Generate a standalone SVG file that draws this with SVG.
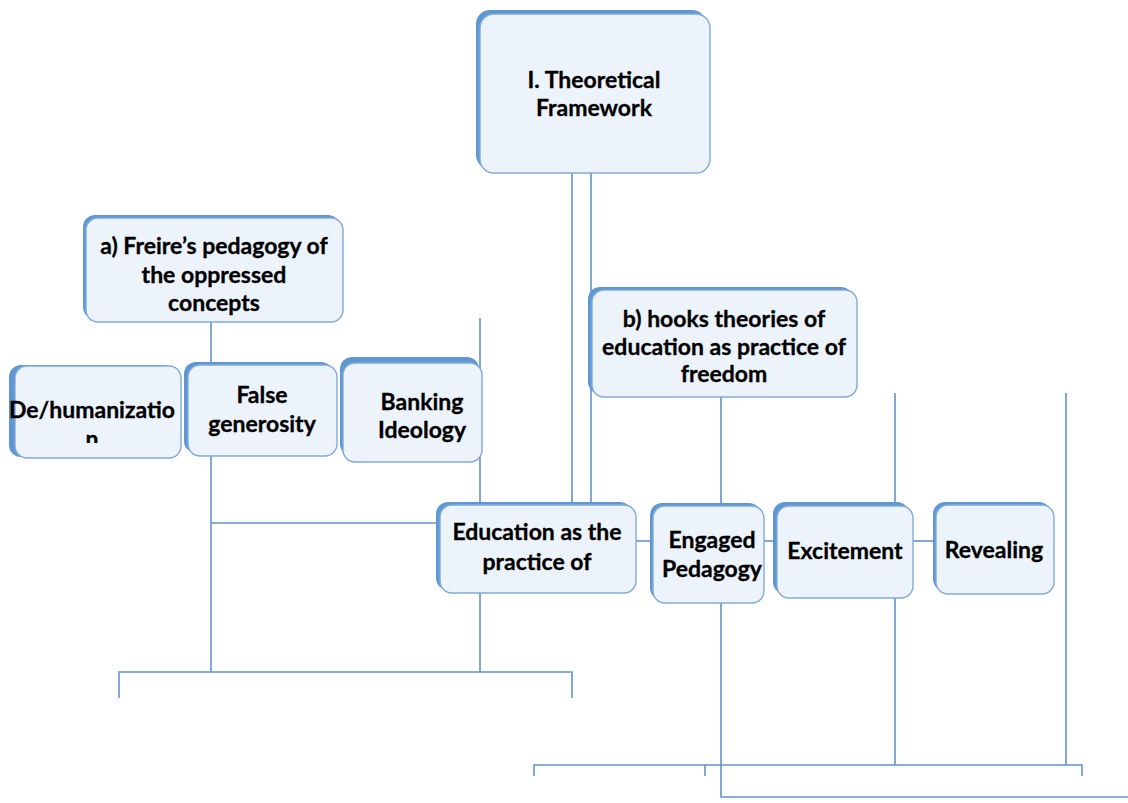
<svg xmlns="http://www.w3.org/2000/svg" width="1128" height="803" viewBox="0 0 1128 803">
<style>
.sh{fill:#5f97d3;}
.bx{fill:#edf3fb;stroke:#80aadb;stroke-width:1.4;}
.t{font-family:Lato,"Liberation Sans",sans-serif;font-weight:bold;font-size:23px;fill:#000;stroke:#000;stroke-width:0.3;text-anchor:middle;}
.c{stroke:#6192cb;stroke-width:1.6;fill:none;}
</style>
<defs>
<clipPath id="clipDe"><rect x="0" y="360" width="200" height="83"/></clipPath>
</defs>
<rect width="1128" height="803" fill="#fff"/>
<g id="connectors">
<line class="c" x1="572" y1="173" x2="572" y2="505"/>
<line class="c" x1="591" y1="173" x2="591" y2="505"/>
<line class="c" x1="211" y1="322" x2="211" y2="365"/>
<line class="c" x1="211" y1="456" x2="211" y2="672"/>
<line class="c" x1="211" y1="523" x2="440" y2="523"/>
<line class="c" x1="480" y1="318" x2="480" y2="505"/>
<line class="c" x1="480" y1="593" x2="480" y2="672"/>
<polyline class="c" points="119,698 119,672 572,672 572,698"/>
<line class="c" x1="721" y1="397" x2="721" y2="506"/>
<polyline class="c" points="721,603 721,797 1128,797"/>
<line class="c" x1="636" y1="541" x2="653" y2="541"/>
<line class="c" x1="764" y1="541" x2="777" y2="541"/>
<line class="c" x1="913" y1="541" x2="936" y2="541"/>
<line class="c" x1="895" y1="393" x2="895" y2="506"/>
<line class="c" x1="895" y1="598" x2="895" y2="765"/>
<line class="c" x1="1066" y1="393" x2="1066" y2="765"/>
<polyline class="c" points="534,776 534,765 1082,765 1082,776"/>
<line class="c" x1="705" y1="765" x2="705" y2="776"/>
</g>
<g id="theoretical">
<rect class="sh" x="476" y="10" width="230" height="159" rx="14"/>
<rect class="bx" x="480" y="14" width="230" height="159" rx="14"/>
<text class="t" x="594" y="88">I. Theoretical</text>
<text class="t" x="594" y="116">Framework</text>
</g>
<g id="freire">
<rect class="sh" x="83" y="215" width="257" height="104" rx="12"/>
<rect class="bx" x="86" y="218" width="257" height="104" rx="12"/>
<text class="t" x="214" y="254">a) Freire’s pedagogy of</text>
<text class="t" x="214" y="283">the oppressed</text>
<text class="t" x="214" y="311">concepts</text>
</g>
<g id="dehumanization">
<rect class="sh" x="9" y="365" width="166" height="92" rx="12"/>
<rect class="bx" x="15" y="366" width="166" height="92" rx="12"/>
<g clip-path="url(#clipDe)">
<text class="t" x="92" y="418">De/humanizatio</text>
<text class="t" x="92" y="447">n</text>
</g>
</g>
<g id="false-generosity">
<rect class="sh" x="184" y="362" width="149" height="91" rx="12"/>
<rect class="bx" x="188" y="365" width="149" height="91" rx="12"/>
<text class="t" x="262" y="403">False</text>
<text class="t" x="262" y="432">generosity</text>
</g>
<g id="banking">
<rect class="sh" x="340" y="357" width="139" height="99" rx="12"/>
<rect class="bx" x="343" y="363" width="139" height="99" rx="12"/>
<text class="t" x="422" y="410">Banking</text>
<text class="t" x="422" y="438">Ideology</text>
</g>
<g id="hooks">
<rect class="sh" x="588" y="287" width="265" height="107" rx="12"/>
<rect class="bx" x="592" y="290" width="265" height="107" rx="12"/>
<text class="t" x="724" y="327">b) hooks theories of</text>
<text class="t" x="724" y="355">education as practice of</text>
<text class="t" x="724" y="382">freedom</text>
</g>
<g id="education">
<rect class="sh" x="436" y="502" width="196" height="88" rx="12"/>
<rect class="bx" x="440" y="505" width="196" height="88" rx="12"/>
<text class="t" x="537" y="540">Education as the</text>
<text class="t" x="537" y="570">practice of</text>
</g>
<g id="engaged">
<rect class="sh" x="650" y="503" width="111" height="97" rx="12"/>
<rect class="bx" x="653" y="506" width="111" height="97" rx="12"/>
<text class="t" x="712" y="548">Engaged</text>
<text class="t" x="712" y="577">Pedagogy</text>
</g>
<g id="excitement">
<rect class="sh" x="773" y="502" width="136" height="92" rx="12"/>
<rect class="bx" x="777" y="506" width="136" height="92" rx="12"/>
<text class="t" x="845" y="559">Excitement</text>
</g>
<g id="revealing">
<rect class="sh" x="933" y="502" width="118" height="89" rx="12"/>
<rect class="bx" x="936" y="505" width="118" height="89" rx="12"/>
<text class="t" x="994" y="558">Revealing</text>
</g>
</svg>
